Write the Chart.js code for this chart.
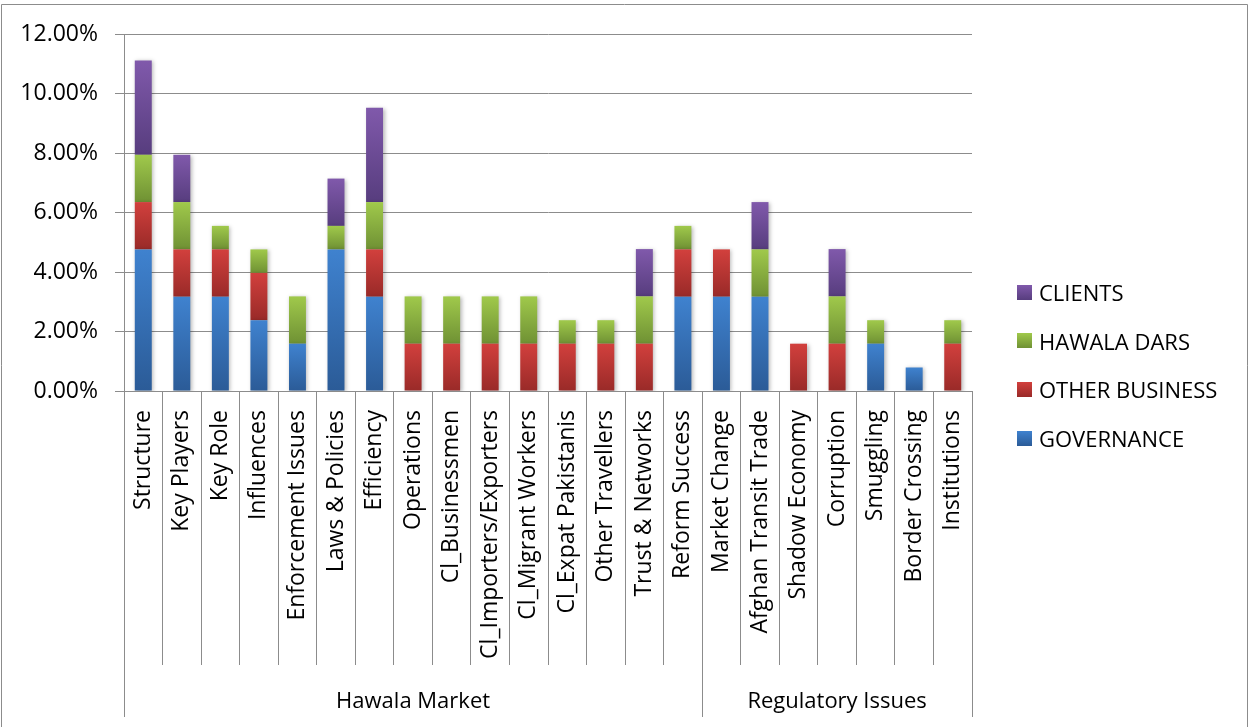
<!DOCTYPE html>
<html><head><meta charset="utf-8">
<script src="https://cdn.jsdelivr.net/npm/chart.js@4/dist/chart.umd.min.js"></script>
<style>
html,body{margin:0;padding:0;background:#fff}
#wrap{position:relative;width:1250px;height:727px}
canvas{display:block}
#legend{position:absolute;left:0;top:0;width:1250px;height:727px;pointer-events:none;font-family:'Open Sans';font-size:22px;color:#000}
.item{position:absolute;left:1017px;height:30px;line-height:30px;display:flex;align-items:center;white-space:nowrap}
.box{width:15px;height:15px;margin-right:7px;flex:none}
</style>
</head><body><div id="wrap"><canvas id="c" width="1250" height="727"></canvas><div id="legend"></div></div>
<script>
// ---- data ----
const categories = ['Structure','Key Players','Key Role','Influences','Enforcement Issues','Laws & Policies','Efficiency','Operations','Cl_Businessmen','Cl_Importers/Exporters','Cl_Migrant Workers','Cl_Expat Pakistanis','Other Travellers','Trust & Networks','Reform Success','Market Change','Afghan Transit Trade','Shadow Economy','Corruption','Smuggling','Border Crossing','Institutions'];
const governance    = [4.76,3.17,3.17,2.38,1.59,4.76,3.17,0,0,0,0,0,0,0,3.17,3.17,3.17,0,0,1.59,0.79,0];
const otherBusiness = [1.59,1.59,1.59,1.59,0,0,1.59,1.59,1.59,1.59,1.59,1.59,1.59,1.59,1.59,1.59,0,1.59,1.59,0,0,1.59];
const hawalaDars    = [1.59,1.59,0.79,0.79,1.59,0.79,1.59,1.59,1.59,1.59,1.59,0.79,0.79,1.59,0.79,0,1.59,0,1.59,0.79,0,0.79];
const clients       = [3.17,1.59,0,0,0,1.59,3.17,0,0,0,0,0,0,1.59,0,0,1.59,0,1.59,0,0,0];
const seriesNames = ['GOVERNANCE','OTHER BUSINESS','HAWALA DARS','CLIENTS'];
const groups = ['Hawala Market','Regulatory Issues'];
const groupSizes = [15,7];
const yMin = 0, yMax = 12, yStep = 2;

// ---- styling ----
const series = [governance, otherBusiness, hawalaDars, clients];
const colors = [
  {top:'#3f82cf', bottom:'#2b5b97', solid:'#3a76bf'},
  {top:'#d2403d', bottom:'#992a28', solid:'#c0392b'},
  {top:'#a0c94b', bottom:'#6f9134', solid:'#8db43f'},
  {top:'#8059ab', bottom:'#573d7e', solid:'#6e4d98'}
];
const GRID = '#8c8c8c';
const FONT = "'Open Sans'";

function segFill(i){
  return (c) => {
    const col = colors[i];
    if (c.type !== 'data' || !c.chart.chartArea || !c.chart.scales.y) return col.solid;
    let base = 0;
    for (let k = 0; k < i; k++) base += series[k][c.dataIndex] || 0;
    const v = series[i][c.dataIndex] || 0;
    if (!v) return col.solid;
    const ys = c.chart.scales.y;
    const y0 = ys.getPixelForValue(base + v), y1 = ys.getPixelForValue(base);
    const g = c.chart.ctx.createLinearGradient(0, y0, 0, y1);
    g.addColorStop(0, col.top); g.addColorStop(1, col.bottom);
    return g;
  };
}

// group boundaries & centres on the secondary axis
const bounds = [0]; groupSizes.forEach(s => bounds.push(bounds[bounds.length-1] + s));
const centres = groupSizes.map((s, i) => bounds[i] + s / 2);
const x2Ticks = bounds.concat(centres).sort((a,b)=>a-b);

const frame = {
  id: 'frame',
  beforeDraw(chart){
    const ctx = chart.ctx;
    ctx.save();
    ctx.fillStyle = '#fff'; ctx.fillRect(0,0,chart.width,chart.height);
    ctx.strokeStyle = '#8c8c8c'; ctx.lineWidth = 1;
    ctx.beginPath();
    ctx.moveTo(1.5, chart.height); ctx.lineTo(1.5, 4.5); ctx.lineTo(1247.5, 4.5); ctx.lineTo(1247.5, chart.height);
    ctx.stroke();
    ctx.restore();
  }
};
const shadow = {
  id: 'shadow',
  beforeDatasetsDraw(chart){ const c = chart.ctx; c.save(); c.shadowColor='rgba(0,0,0,0.28)'; c.shadowBlur=4; c.shadowOffsetX=1.5; c.shadowOffsetY=1; },
  afterDatasetsDraw(chart){ chart.ctx.restore(); }
};

new Chart(document.getElementById('c'), {
  type: 'bar',
  data: {
    labels: categories,
    datasets: series.map((arr, i) => ({
      label: seriesNames[i],
      data: arr.map(v => v === 0 ? null : v),
      backgroundColor: segFill(i),
      borderWidth: 0,
      xAxisID: 'x', yAxisID: 'y',
      barPercentage: 0.44, categoryPercentage: 1
    }))
  },
  options: {
    responsive: false, animation: false, devicePixelRatio: 1,
    layout: { padding: { top: 34, right: 278, bottom: 10, left: 0 } },
    plugins: {
      tooltip: { enabled: false },
      legend: { display: false }
    },
    scales: {
      y: {
        stacked: true, min: yMin, max: yMax,
        afterFit: s => { s.width = 124; },
        ticks: { stepSize: yStep, padding: 17, color: '#000', font: { family: FONT, size: 23 },
                 callback: v => v.toFixed(2) + '%' },
        grid: { color: GRID, lineWidth: 1, tickLength: 9 },
        border: { color: GRID, width: 1 }
      },
      x: {
        stacked: true, weight: 0,
        afterFit: s => { s.height = 274; },
        ticks: { autoSkip: false, minRotation: 90, maxRotation: 90, padding: -255, color: '#000', font: { family: FONT, size: 23 } },
        grid: { offset: true, drawOnChartArea: false, tickLength: 274, color: GRID, lineWidth: 1 },
        border: { color: GRID, width: 1 }
      },
      x2: {
        type: 'linear', position: 'bottom', weight: 1, offset: false,
        min: 0, max: bounds[bounds.length-1],
        afterBuildTicks: s => { s.ticks = x2Ticks.map(v => ({ value: v })); },
        afterFit: s => { s.height = 52; },
        ticks: { autoSkip: false, maxRotation: 0, minRotation: 0, padding: -28, color: '#000', font: { family: FONT, size: 22 },
                 callback: v => { const k = centres.indexOf(v); return k >= 0 ? groups[k] : ''; } },
        grid: { offset: false, drawOnChartArea: false, tickLength: 52, lineWidth: 1,
                color: c => (c.tick && bounds.includes(c.tick.value)) ? GRID : 'rgba(0,0,0,0)' },
        border: { display: false }
      }
    }
  },
  plugins: [frame, shadow]
});

// ---- legend (reverse series order, as in the reference) ----
const legendEl = document.getElementById('legend');
const legendTop = 292, legendStep = 48.7;
seriesNames.slice().reverse().forEach((name, j) => {
  const i = seriesNames.length - 1 - j;
  const item = document.createElement('div');
  item.className = 'item';
  item.style.top = (legendTop + j * legendStep - 15) + 'px';
  const box = document.createElement('span');
  box.className = 'box';
  box.style.background = 'linear-gradient(to bottom,' + colors[i].top + ',' + colors[i].bottom + ')';
  const txt = document.createElement('span');
  txt.textContent = name;
  item.appendChild(box); item.appendChild(txt);
  legendEl.appendChild(item);
});
</script>
</body></html>
